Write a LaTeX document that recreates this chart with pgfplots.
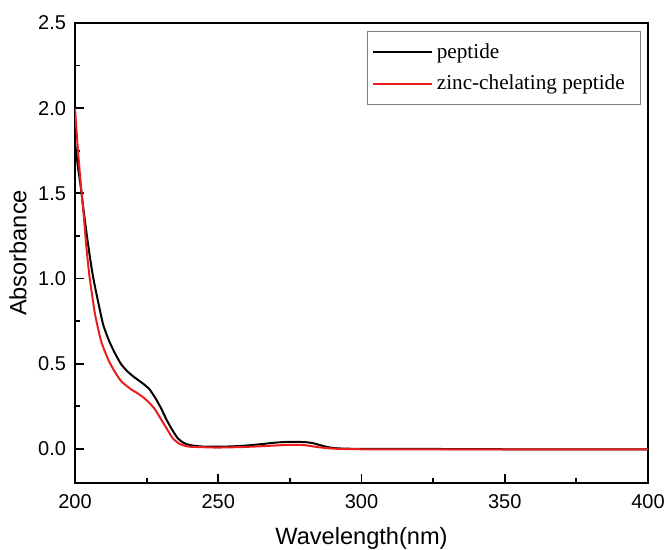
\documentclass[border=0pt]{standalone}
\usepackage{fontspec}
\setmainfont{Liberation Serif}
\setsansfont{Liberation Sans}
\usepackage{pgfplots}
\pgfplotsset{compat=1.18}
\definecolor{zincred}{RGB}{235,30,30}

\begin{document}
\begin{tikzpicture}
\useasboundingbox (-37.5pt,-33.5pt) rectangle (295pt,241.5pt);
\begin{axis}[
  scale only axis=true,
  width=286.5pt, height=230pt,
  xmin=200, xmax=400,
  ymin=-0.2, ymax=2.5,
  xtick={200,250,300,350,400},
  ytick={0,0.5,1,1.5,2,2.5},
  minor x tick num=1,
  minor y tick num=1,
  xtick pos=left, ytick pos=left,
  tick align=inside,
  major tick length=4.5pt,
  minor tick length=2.5pt,
  axis line style={line width=1.1pt},
  every tick/.style={black, line width=0.9pt},
  yticklabel style={/pgf/number format/fixed, /pgf/number format/fixed zerofill,
    /pgf/number format/precision=1, xshift=-1pt},
  /pgf/number format/assume math mode=true,
  ticklabel style={font=\sffamily\fontsize{10}{10}\selectfont},
  xticklabel style={yshift=-2pt},
  xlabel={Wavelength(nm)},
  ylabel={Absorbance},
  label style={font=\sffamily\fontsize{11.8}{12}\selectfont},
  xlabel style={at={(0.5,-0.1348)}, anchor=base},
  ylabel style={at={(-0.0995,0.5)}, anchor=center},
  legend style={at={(0.988,0.983)}, anchor=north east, draw=gray, line width=0.5pt,
    font=\rmfamily\fontsize{10.6}{12}\selectfont,
    inner xsep=2pt, inner ysep=4pt, row sep=3pt,
    nodes={inner sep=2pt}},
  legend cell align=left,
  legend image code/.code={\draw[#1, line width=1pt] (0pt,0pt) -- (29.5pt,0pt);},
]
\addplot[black, line width=1pt, smooth, tension=0.4] coordinates {
 (200,1.80)(201,1.66)(202,1.54)(203,1.40)(204,1.27)(205,1.15)(206,1.04)(207,0.95)
 (208,0.87)(209,0.79)(210,0.72)(212,0.63)(214,0.56)(216,0.50)(218,0.46)(220,0.43)
 (222,0.405)(224,0.38)(226,0.35)(228,0.30)(230,0.24)(232,0.17)(234,0.11)(236,0.06)
 (238,0.035)(240,0.023)(243,0.016)(246,0.013)(250,0.013)(255,0.015)(260,0.02)
 (265,0.028)(270,0.037)(275,0.042)(280,0.04)(283,0.034)(286,0.02)(289,0.008)
 (292,0.003)(300,0.0)(320,0.0)(350,-0.002)(380,-0.003)(400,-0.002)
};
\addplot[zincred, line width=1pt, smooth, tension=0.4] coordinates {
 (200,2.00)(201,1.76)(202,1.56)(203,1.38)(204,1.18)(205,1.02)(206,0.90)(207,0.79)
 (208,0.71)(209,0.64)(210,0.59)(212,0.51)(214,0.45)(216,0.40)(218,0.37)(220,0.345)
 (222,0.325)(224,0.30)(226,0.27)(228,0.23)(230,0.175)(232,0.12)(234,0.065)(236,0.035)
 (238,0.02)(240,0.013)(245,0.01)(250,0.008)(260,0.012)(270,0.02)(275,0.024)
 (280,0.022)(285,0.01)(290,0.002)(300,-0.002)(350,-0.003)(400,-0.002)
};
\legend{peptide\hspace*{4pt}, zinc-chelating peptide\hspace*{4pt}}
\end{axis}
\end{tikzpicture}
\end{document}
